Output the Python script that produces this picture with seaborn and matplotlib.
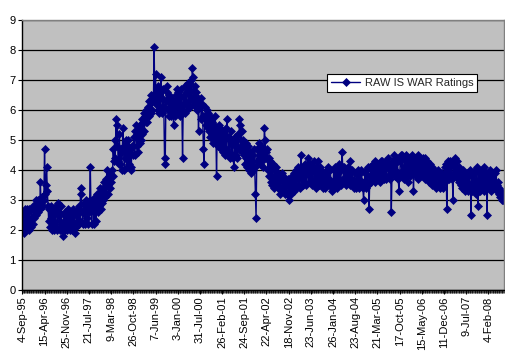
import matplotlib
matplotlib.use("Agg")
import matplotlib.pyplot as plt
from matplotlib.ticker import MultipleLocator
import seaborn as sns
import pandas as pd

sns.set_theme(style="white")
plt.rcParams["font.family"] = ["Liberation Sans", "DejaVu Sans"]

NAVY = "#000080"
LABEL_EVERY = 32  # one date label every 32 weekly shows

tick_dates = ["4-Sep-95", "15-Apr-96", "25-Nov-96", "21-Jul-97", "9-Mar-98",
              "26-Oct-98", "7-Jun-99", "3-Jan-00", "31-Jul-00", "26-Feb-01",
              "24-Sep-01", "22-Apr-02", "18-Nov-02", "23-Jun-03", "26-Jan-04",
              "23-Aug-04", "21-Mar-05", "17-Oct-05", "15-May-06", "11-Dec-06",
              "9-Jul-07", "4-Feb-08"]

# weekly ratings (32 weeks per row)
ratings = [
    2.2, 2.6, 2.0, 1.9, 2.7, 2.2, 2.7, 2.1, 2.6, 2.0, 2.7, 2.3, 2.1, 2.7, 2.4, 2.2,
    2.8, 2.4, 2.7, 3.0, 2.5, 2.9, 3.0, 2.6, 3.0, 2.7, 3.6, 2.8, 3.1, 3.1, 2.8, 3.0,
    4.7, 3.2, 3.5, 4.1, 3.3, 2.8, 2.3, 2.7, 2.1, 2.8, 2.4, 2.0, 2.6, 2.0, 2.7, 2.2,
    2.8, 2.1, 2.0, 2.5, 2.9, 2.6, 2.0, 2.3, 2.8, 2.0, 2.2, 1.8, 2.5, 2.0, 2.6, 2.2,
    2.4, 2.0, 2.7, 2.1, 2.6, 2.0, 2.5, 2.0, 2.3, 2.7, 2.1, 2.5, 1.9, 2.1, 2.6, 2.2,
    2.7, 2.2, 2.8, 2.3, 3.4, 3.2, 2.6, 2.2, 2.6, 2.9, 2.2, 2.7, 3.0, 2.4, 2.2, 2.8,
    2.6, 3.0, 4.1, 2.7, 2.2, 2.9, 3.0, 2.2, 2.6, 3.1, 2.3, 2.8, 3.2, 2.6, 3.1, 2.8,
    3.4, 2.7, 3.3, 2.9, 3.4, 3.0, 3.6, 3.1, 3.7, 3.2, 4.0, 3.5, 3.2, 3.8, 3.4, 3.9,
    3.6, 4.0, 3.8, 4.7, 4.3, 5.0, 4.4, 5.7, 4.8, 5.5, 4.3, 4.2, 5.2, 4.2, 4.7, 4.0,
    4.6, 5.4, 4.8, 4.0, 4.4, 5.0, 4.6, 4.1, 4.8, 5.0, 4.2, 4.7, 4.1, 4.0, 4.8, 4.5,
    4.8, 5.1, 4.5, 5.3, 5.5, 4.8, 5.2, 4.6, 5.4, 4.9, 5.5, 5.0, 5.7, 5.2, 5.6, 5.9,
    5.3, 5.8, 5.6, 6.0, 5.6, 6.1, 5.8, 6.3, 6.3, 5.9, 6.5, 6.0, 6.5, 6.3, 8.1, 6.4,
    7.2, 6.2, 6.7, 6.0, 6.8, 5.9, 6.6, 6.1, 7.1, 6.4, 5.9, 6.7, 6.1, 4.4, 4.2, 6.3,
    6.6, 6.8, 6.0, 5.8, 6.5, 6.1, 5.8, 6.4, 5.9, 6.3, 5.5, 6.2, 5.8, 6.5, 5.9, 6.7,
    6.1, 6.6, 5.9, 6.4, 5.8, 6.7, 6.0, 4.4, 6.2, 6.5, 5.9, 6.8, 6.2, 6.0, 6.6, 6.9,
    6.3, 6.7, 6.1, 7.0, 6.4, 7.4, 7.1, 6.6, 6.2, 6.8, 6.1, 6.6, 6.0, 6.4, 5.3, 6.2,
    6.1, 6.4, 5.7, 6.2, 5.8, 4.7, 4.2, 5.7, 6.1, 5.5, 6.0, 5.4, 5.9, 5.3, 5.8, 5.1,
    5.7, 5.2, 5.6, 4.9, 5.5, 5.0, 5.8, 5.3, 3.8, 5.3, 4.8, 5.5, 4.9, 5.4, 4.7, 5.2,
    4.9, 5.3, 4.6, 5.1, 4.5, 5.4, 4.7, 5.7, 5.1, 4.6, 5.1, 4.4, 5.0, 5.3, 4.5, 4.9,
    4.4, 4.1, 4.8, 5.1, 4.5, 5.0, 4.4, 5.2, 4.7, 5.7, 5.5, 4.8, 5.3, 4.6, 5.0, 4.5,
    4.7, 4.2, 4.9, 4.4, 4.1, 4.8, 4.3, 4.0, 4.6, 3.9, 4.4, 4.0, 4.5, 4.0, 4.7, 4.1,
    3.2, 2.4, 4.3, 4.7, 4.3, 4.9, 4.4, 4.2, 4.8, 4.3, 4.7, 4.1, 4.5, 5.4, 5.0, 4.6,
    4.4, 4.7, 4.0, 4.4, 3.8, 4.3, 3.6, 4.1, 3.5, 4.2, 3.7, 3.4, 4.0, 3.5, 4.1, 3.6,
    3.4, 3.9, 3.4, 3.8, 3.2, 3.7, 3.9, 3.4, 3.8, 3.3, 3.7, 3.2, 3.6, 3.2, 3.5, 3.7,
    3.3, 3.0, 3.5, 3.7, 3.2, 3.8, 3.4, 3.9, 3.3, 3.7, 4.0, 3.4, 3.8, 4.1, 3.5, 3.9,
    3.4, 4.0, 4.5, 3.7, 3.5, 4.1, 3.6, 4.0, 4.2, 3.5, 3.9, 4.1, 4.4, 3.8, 3.6, 4.2,
    3.7, 4.1, 3.5, 4.0, 4.3, 3.6, 4.0, 3.4, 4.1, 3.7, 4.3, 3.8, 3.5, 4.1, 3.6, 4.0,
    3.5, 3.9, 3.4, 3.8, 3.4, 3.9, 3.5, 4.0, 3.6, 4.1, 3.7, 3.5, 4.0, 3.6, 3.4, 3.3,
    3.6, 4.0, 3.5, 4.1, 3.7, 3.4, 4.0, 3.6, 4.2, 3.7, 4.1, 3.5, 4.0, 4.6, 4.1, 3.7,
    4.1, 3.6, 4.0, 3.5, 3.9, 4.1, 3.6, 4.0, 3.5, 4.3, 3.7, 3.5, 4.0, 3.6, 3.4, 3.9,
    3.6, 3.4, 3.9, 3.5, 4.0, 3.6, 3.4, 3.9, 3.5, 4.0, 3.6, 3.4, 3.0, 3.6, 3.9, 3.4,
    4.0, 3.6, 4.1, 3.5, 2.7, 3.8, 4.1, 3.6, 4.0, 4.2, 3.7, 4.1, 3.6, 4.3, 3.8, 4.2,
    3.8, 4.2, 3.7, 4.1, 3.6, 4.3, 3.8, 4.3, 3.9, 3.7, 4.2, 3.8, 4.3, 3.7, 4.1, 4.4,
    3.8, 4.2, 3.7, 4.1, 2.6, 3.9, 4.3, 3.9, 4.5, 4.0, 3.8, 4.4, 3.9, 4.3, 3.7, 3.3,
    3.8, 4.3, 4.5, 3.9, 4.5, 4.0, 3.7, 4.4, 3.9, 4.5, 3.8, 4.3, 3.6, 4.2, 4.4, 3.8,
    4.3, 3.9, 4.5, 4.2, 3.3, 4.2, 4.4, 3.8, 4.3, 3.9, 4.5, 3.7, 4.2, 3.8, 4.4, 3.9,
    4.3, 3.8, 4.4, 3.9, 4.4, 3.7, 4.2, 3.8, 4.3, 3.7, 4.1, 3.6, 4.2, 3.8, 3.5, 4.1,
    3.7, 3.6, 4.0, 3.5, 3.9, 3.4, 3.8, 4.0, 3.5, 3.9, 3.4, 3.8, 3.5, 3.9, 3.4, 3.8,
    3.7, 4.1, 3.6, 4.2, 2.7, 3.9, 4.3, 3.7, 4.1, 4.3, 3.8, 4.2, 3.7, 3.0, 4.3, 3.9,
    4.4, 4.0, 3.8, 4.3, 3.7, 4.1, 3.6, 4.0, 3.5, 3.9, 3.4, 4.0, 3.5, 3.9, 3.3, 3.8,
    3.5, 3.9, 3.3, 3.8, 3.4, 4.0, 3.5, 2.5, 3.8, 3.3, 3.9, 3.4, 4.0, 3.5, 3.2, 4.1,
    3.6, 2.8, 3.7, 3.9, 3.3, 3.8, 3.4, 4.0, 3.5, 3.3, 4.1, 3.6, 3.4, 3.9, 2.5, 3.7,
    3.9, 3.4, 4.0, 3.5, 3.3, 3.8, 3.4, 3.9, 3.5, 3.9, 3.6, 4.0, 3.5, 3.3, 3.6, 3.2,
    3.4, 3.1, 3.3, 3.0, 3.2, 3.0, 3.1,
]

df = pd.DataFrame({"week": range(len(ratings)), "rating": ratings})

fig, ax = plt.subplots(figsize=(5.05, 3.58), dpi=100)
fig.patch.set_facecolor("white")
fig.subplots_adjust(left=22 / 505, right=504 / 505, bottom=68 / 358, top=338 / 358)
ax.set_facecolor("#C0C0C0")

sns.lineplot(data=df, x="week", y="rating", ax=ax, color=NAVY, linewidth=1.0,
             marker="D", markersize=3.6, markeredgecolor=NAVY, markeredgewidth=0.5,
             errorbar=None, label="RAW IS WAR Ratings")

ax.set_ylim(0, 9)
ax.set_yticks(range(10))
ax.set_xlim(-0.5, len(ratings) - 0.5)
ax.set_xticks(range(0, len(ratings), LABEL_EVERY))
ax.set_xticklabels(tick_dates, rotation=90)
ax.xaxis.set_minor_locator(MultipleLocator(1))
ax.set_xlabel("")
ax.set_ylabel("")

ax.yaxis.grid(True, color="black", linewidth=0.9)
ax.set_axisbelow(True)

for side in ["left", "bottom"]:
    ax.spines[side].set_color("black")
    ax.spines[side].set_linewidth(1.0)
for side in ["top", "right"]:
    ax.spines[side].set_color("#808080")
    ax.spines[side].set_linewidth(1.0)

ax.tick_params(axis="both", which="major", bottom=True, left=True, length=3,
               width=0.8, color="black", labelsize=8, pad=1.5, labelcolor="black")
ax.tick_params(axis="x", which="minor", bottom=True, length=2.5, width=0.5, color="black")

leg = ax.legend(loc="center", bbox_to_anchor=(0.789, 0.767), frameon=True,
                fancybox=False, edgecolor="black", framealpha=1, fontsize=8,
                handlelength=2.6, borderpad=0.35, handletextpad=0.4)
leg.get_frame().set_linewidth(0.8)

fig.savefig("out.png", dpi=100)
